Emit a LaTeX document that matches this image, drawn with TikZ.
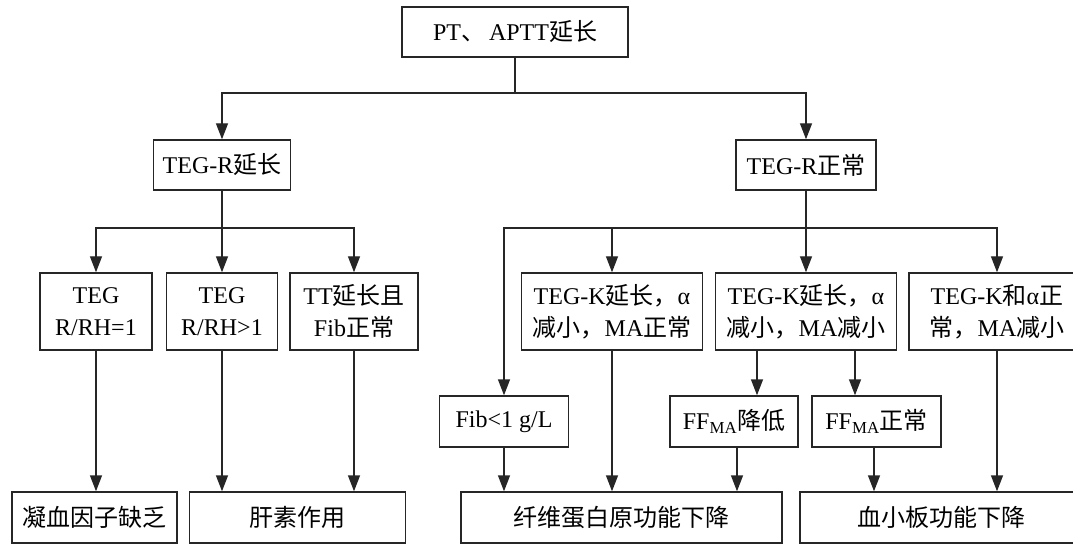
\documentclass[tikz,border=0pt]{standalone}
\usepackage{fontspec}
\setmainfont{Liberation Serif}
\newfontfamily\cjk{Noto Sans CJK SC}
\usetikzlibrary{arrows.meta}
\newcommand{\zh}[1]{{\cjk #1}}
\begin{document}
\begin{tikzpicture}[x=1pt,y=-1pt,
  box/.style={draw=black!85, line width=1.4pt, inner sep=0pt, align=center,
    font=\fontsize{24}{32}\selectfont},
  ln/.style={draw=black!85, line width=1.4pt},
  arr/.style={ln, -{Triangle[length=16pt,width=12pt]}}]
\useasboundingbox (0,0) rectangle (1073,545);
% level 0
\node[box, minimum width=226pt, minimum height=50pt] (top) at (515,32) {PT\zh{、}\,APTT\zh{延长}};
% level 1
\node[box, minimum width=137pt, minimum height=50pt] (r1) at (222,165) {TEG-R\zh{延长}};
\node[box, minimum width=140pt, minimum height=50pt] (r2) at (806,165) {TEG-R\zh{正常}};
% level 2
\node[box, minimum width=112pt, minimum height=77pt] (l1) at (96,311.5) {TEG\\R/RH=1};
\node[box, minimum width=111pt, minimum height=77pt] (l2) at (222,311.5) {TEG\\R/RH\textgreater1};
\node[box, minimum width=128pt, minimum height=77pt] (l3) at (354,311.5) {TT\zh{延长且}\\Fib\zh{正常}};
\node[box, minimum width=181pt, minimum height=77pt] (m1) at (612,311.5) {TEG-K\zh{延长，}α\\\zh{减小，}MA\zh{正常}};
\node[box, minimum width=181pt, minimum height=77pt] (m2) at (806,311.5) {TEG-K\zh{延长，}α\\\zh{减小，}MA\zh{减小}};
\node[box, minimum width=176pt, minimum height=77pt] (m3) at (997,311.5) {TEG-K\zh{和}α\zh{正}\\\zh{常，}MA\zh{减小}};
% level 3
\node[box, minimum width=129pt, minimum height=51pt] (f1) at (504,421.5) {Fib\textless1 g/L};
\node[box, minimum width=128pt, minimum height=51pt] (f2) at (734,421.5) {FF\textsubscript{MA}\zh{降低}};
\node[box, minimum width=129pt, minimum height=51pt] (f3) at (876.5,421.5) {FF\textsubscript{MA}\zh{正常}};
% level 4
\node[box, minimum width=165pt, minimum height=51pt] (b1) at (94.5,517.5) {\zh{凝血因子缺乏}};
\node[box, minimum width=216pt, minimum height=51pt] (b2) at (297.5,517.5) {\zh{肝素作用}};
\node[box, minimum width=321pt, minimum height=51pt] (b3) at (621.5,517.5) {\zh{纤维蛋白原功能下降}};
\node[box, minimum width=282pt, minimum height=51pt] (b4) at (941,517.5) {\zh{血小板功能下降}};
% junctions
\coordinate (j0) at (515,93);
\coordinate (j1) at (222,228);
\coordinate (j2) at (806,228);
% connectors
\draw[ln] (top.south) -- (j0);
\draw[arr] (j0) -| (r1.north);
\draw[arr] (j0) -| (r2.north);
\draw[ln] (r1.south) -- (j1);
\draw[arr] (j1) -| (l1.north);
\draw[arr] (j1) -- (l2.north);
\draw[arr] (j1) -| (l3.north);
\draw[ln] (r2.south) -- (j2);
\draw[arr] (j2) -| (f1.north);
\draw[arr] (j2) -| (m1.north);
\draw[arr] (j2) -- (m2.north);
\draw[arr] (j2) -| (m3.north);
\draw[arr] (l1.south) -- (l1.south |- b1.north);
\draw[arr] (l2.south) -- (l2.south |- b2.north);
\draw[arr] (l3.south) -- (l3.south |- b2.north);
\draw[arr] ([xshift=-49pt]m2.south) -- ([xshift=-49pt]m2.south |- f2.north);
\draw[arr] ([xshift=49pt]m2.south) -- ([xshift=49pt]m2.south |- f3.north);
\draw[arr] (f1.south) -- (f1.south |- b3.north);
\draw[arr] (m1.south) -- (m1.south |- b3.north);
\draw[arr] ([xshift=3pt]f2.south) -- ([xshift=3pt]f2.south |- b3.north);
\draw[arr] ([xshift=-2.5pt]f3.south) -- ([xshift=-2.5pt]f3.south |- b4.north);
\draw[arr] (m3.south) -- (m3.south |- b4.north);
\end{tikzpicture}
\end{document}
